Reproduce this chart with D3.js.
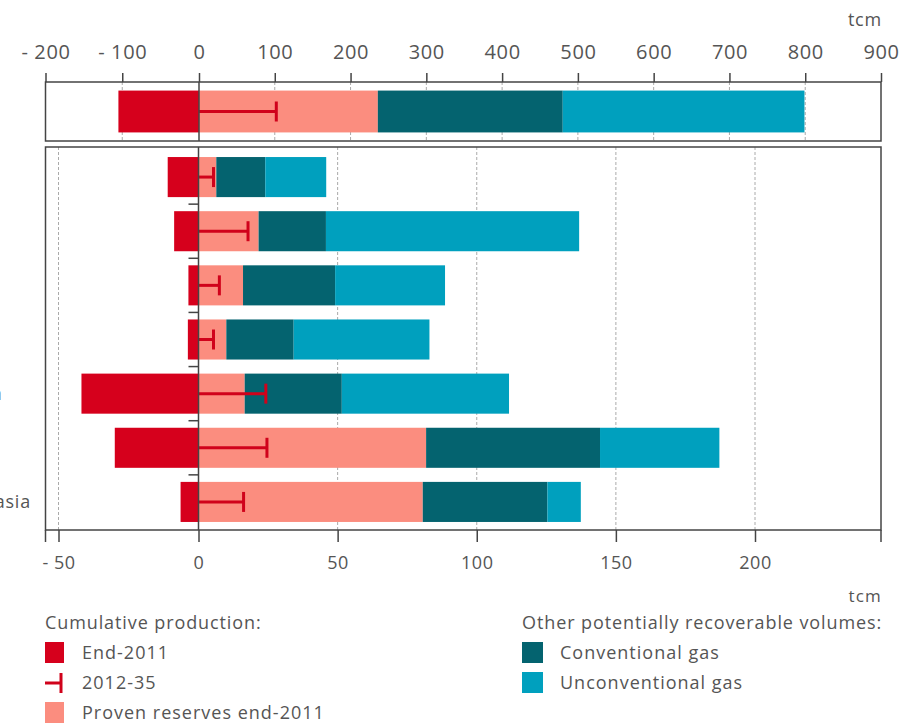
<!DOCTYPE html>
<html>
<head>
<meta charset="utf-8">
<script src="https://cdn.jsdelivr.net/npm/d3@7"></script>
<style>
	body { margin: 0; background: #fff; }
	svg text { font-family: "Open Sans", sans-serif; fill: #555; }
</style>
</head>
<body>
<div id="chart"></div>
<script>
// regional rows, bottom panel (tcm)
var regions = ["OECD Europe", "Asia Oceania", "Latin America", "Africa", "North America", "Middle East", "E. Europe/Eurasia"];
var end2011 = [-11.0, -8.7, -3.6, -3.8, -41.8, -29.9, -6.4];
var prod2012_35 = [5.4, 17.8, 7.5, 5.4, 24.2, 24.6, 16.2];
var proven = [6.4, 21.6, 16.0, 10.0, 16.6, 81.8, 80.6];
var conventional = [17.6, 24.2, 33.1, 24.2, 34.9, 62.5, 44.8];
var unconventional = [21.9, 91.0, 39.5, 48.8, 60.1, 42.9, 12.0];

// world row, top panel (tcm)
var worldLabel = ["World"];
var worldEnd2011 = [-105];
var worldProd2012_35 = [102];
var worldProven = [236];
var worldConventional = [244];
var worldUnconventional = [319];

var topTicks = [-200, -100, 0, 100, 200, 300, 400, 500, 600, 700, 800, 900];
var bottomTicks = [-50, 0, 50, 100, 150, 200];
var legendLeft = ["End-2011", "2012-35", "Proven reserves end-2011"];
var legendRight = ["Conventional gas", "Unconventional gas"];

var colors = {
	end: "#d6001c",
	bar: "#d0021b",
	proven: "#fb8d7f",
	conventional: "#04636f",
	unconventional: "#00a0be"
};
var keys = ["proven", "conventional", "unconventional"];

var svg = d3.select("#chart").append("svg")
	.attr("width", 913)
	.attr("height", 723);

var left = 45.5, right = 881;
var fmt = function(d){
	return d < 0 ? "- " + Math.abs(d) : d;
};
// the original face is wider than Open Sans, so open the letters up a bit
var wide = function(sel, size, spacing){
	sel.style("font-size", size + "px").style("letter-spacing", spacing + "px");
};

var xTop = d3.scaleLinear().domain([-200, 0, 900]).range([left, 199, right]);
var xBot = d3.scaleLinear().domain([-50, 0, 200]).range([58.5, 198.5, 755]);
var yTop = d3.scaleBand().domain(worldLabel).range([82, 141]).padding(0.17);
var yBot = d3.scaleBand().domain(regions).range([150, 529]).paddingInner(0.26).paddingOuter(0.13);

var makeRows = function(labels, e, p, a, b, c){
	return labels.map(function(name, i){
		return {name: name, end: e[i], prod: p[i], proven: a[i], conventional: b[i], unconventional: c[i]};
	});
};
var worldRows = makeRows(worldLabel, worldEnd2011, worldProd2012_35, worldProven, worldConventional, worldUnconventional);
var regionRows = makeRows(regions, end2011, prod2012_35, proven, conventional, unconventional);

var drawPanel = function(rows, x, y, y0, y1, gridTicks){
	var g = svg.append("g");
	// dashed grid
	g.selectAll("line.grid").data(gridTicks).enter().append("line")
		.attr("class", "grid")
		.attr("x1", function(d){ return x(d); })
		.attr("x2", function(d){ return x(d); })
		.attr("y1", y0)
		.attr("y2", y1)
		.attr("stroke", "#aaa")
		.attr("stroke-width", 1)
		.attr("stroke-dasharray", "3,2");
	// cumulative production to end-2011
	g.selectAll("rect.end").data(rows).enter().append("rect")
		.attr("x", function(d){ return x(d.end); })
		.attr("y", function(d){ return y(d.name); })
		.attr("width", function(d){ return x(0) - x(d.end); })
		.attr("height", y.bandwidth())
		.attr("fill", colors.end);
	// stacked resources
	var stacked = d3.stack().keys(keys)(rows);
	g.selectAll("g.layer").data(stacked).enter().append("g")
		.attr("fill", function(d){ return colors[d.key]; })
		.selectAll("rect").data(function(d){ return d; }).enter().append("rect")
		.attr("x", function(d){ return x(d[0]); })
		.attr("y", function(d){ return y(d.data.name); })
		.attr("width", function(d){ return x(d[1]) - x(d[0]); })
		.attr("height", y.bandwidth());
	// 2012-35 production bars
	var mid = function(d){ return y(d.name) + y.bandwidth() / 2; };
	g.selectAll("line.prod").data(rows).enter().append("line")
		.attr("x1", x(0))
		.attr("x2", function(d){ return x(d.prod); })
		.attr("y1", mid)
		.attr("y2", mid)
		.attr("stroke", colors.bar)
		.attr("stroke-width", 3);
	g.selectAll("line.cap").data(rows).enter().append("line")
		.attr("x1", function(d){ return x(d.prod); })
		.attr("x2", function(d){ return x(d.prod); })
		.attr("y1", function(d){ return mid(d) - 10; })
		.attr("y2", function(d){ return mid(d) + 10; })
		.attr("stroke", colors.bar)
		.attr("stroke-width", 3);
	// zero line and frame
	g.append("line")
		.attr("x1", x(0)).attr("x2", x(0))
		.attr("y1", y0).attr("y2", y1)
		.attr("stroke", "#444").attr("stroke-width", 1.5);
	g.append("rect")
		.attr("x", left).attr("y", y0)
		.attr("width", right - left).attr("height", y1 - y0)
		.attr("fill", "none")
		.attr("stroke", "#444").attr("stroke-width", 1.5);
	return g;
};

drawPanel(worldRows, xTop, yTop, 82, 141, [-100, 100, 200, 300, 400, 500, 600, 700, 800]);
var bot = drawPanel(regionRows, xBot, yBot, 147, 530, [-50, 50, 100, 150, 200]);

// small separators left of the zero line
var step = yBot.step();
bot.selectAll("line.sep").data(regions.slice(1)).enter().append("line")
	.attr("x1", xBot(0) - 10)
	.attr("x2", xBot(0))
	.attr("y1", function(d){ return yBot(d) - (step - yBot.bandwidth()) / 2; })
	.attr("y2", function(d){ return yBot(d) - (step - yBot.bandwidth()) / 2; })
	.attr("stroke", "#444")
	.attr("stroke-width", 1.5);

// axes
var topAxis = svg.append("g")
	.attr("transform", "translate(0,82)")
	.call(d3.axisTop(xTop).tickValues(topTicks).tickSize(9).tickPadding(14).tickFormat(fmt));
var botAxis = svg.append("g")
	.attr("transform", "translate(0,530)")
	.call(d3.axisBottom(xBot).tickValues(bottomTicks).tickSize(12).tickPadding(14).tickFormat(fmt));
botAxis.append("line")
	.attr("x1", left).attr("x2", left).attr("y1", 0).attr("y2", 12);
botAxis.append("line")
	.attr("x1", right).attr("x2", right).attr("y1", 0).attr("y2", 12);
[topAxis, botAxis].forEach(function(a){
	a.select(".domain").remove();
	a.selectAll("line").attr("stroke", "#444").attr("stroke-width", 1.5);
	a.selectAll("text").attr("fill", "#555");
});
topAxis.selectAll("text").call(wide, 20, 0.6);
botAxis.selectAll("text").call(wide, 18, 0.5);

svg.append("text").attr("x", 882).attr("y", 26).attr("text-anchor", "end")
	.call(wide, 18, 0.8).text("tcm");
svg.append("text").attr("x", 882).attr("y", 602).attr("text-anchor", "end")
	.call(wide, 17, 1.2).text("tcm");

// region labels (mostly cut off by the left edge, as in the source)
var labels = svg.selectAll("text.region").data(regions).enter().append("text")
	.attr("class", "region")
	.attr("y", function(d){ return yBot(d) + yBot.bandwidth() / 2; })
	.attr("dy", "0.35em")
	.call(wide, 18, 0.8)
	.text(function(d){ return d; });
var lastW = labels.nodes()[regions.length - 1].getComputedTextLength();
labels.attr("x", 31 - lastW);

// legend
svg.append("text").attr("x", 45).attr("y", 629).call(wide, 18, 0.9).text("Cumulative production:");
svg.append("text").attr("x", 522).attr("y", 629).call(wide, 18, 0.9).text("Other potentially recoverable volumes:");

var ly = function(i){ return 653 + i * 30; };
svg.selectAll("text.legl").data(legendLeft).enter().append("text")
	.attr("x", 82)
	.attr("y", function(d, i){ return ly(i); })
	.attr("dy", "0.35em")
	.call(wide, 18, 1)
	.text(function(d){ return d; });
svg.append("rect").attr("x", 45).attr("y", ly(0) - 11).attr("width", 19).attr("height", 21).attr("fill", colors.end);
svg.append("line").attr("x1", 45).attr("x2", 61).attr("y1", ly(1)).attr("y2", ly(1))
	.attr("stroke", colors.bar).attr("stroke-width", 3);
svg.append("line").attr("x1", 61).attr("x2", 61).attr("y1", ly(1) - 10).attr("y2", ly(1) + 10)
	.attr("stroke", colors.bar).attr("stroke-width", 3);
svg.append("rect").attr("x", 45).attr("y", ly(2) - 11).attr("width", 19).attr("height", 21).attr("fill", colors.proven);

svg.selectAll("text.legr").data(legendRight).enter().append("text")
	.attr("x", 560)
	.attr("y", function(d, i){ return ly(i); })
	.attr("dy", "0.35em")
	.call(wide, 18, 1)
	.text(function(d){ return d; });
svg.selectAll("rect.legr").data(["conventional", "unconventional"]).enter().append("rect")
	.attr("x", 522)
	.attr("y", function(d, i){ return ly(i) - 11; })
	.attr("width", 21)
	.attr("height", 21)
	.attr("fill", function(d){ return colors[d]; });
</script>
</body>
</html>
